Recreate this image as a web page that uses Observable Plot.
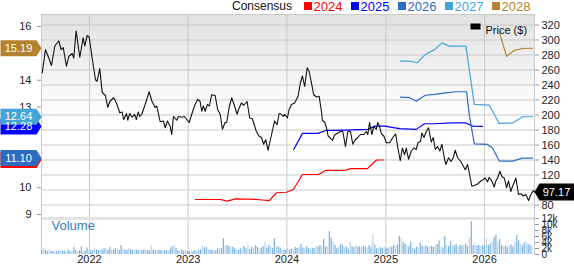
<!DOCTYPE html>
<html><head><meta charset="utf-8">
<script src="https://cdn.jsdelivr.net/npm/d3@7"></script>
<script src="https://cdn.jsdelivr.net/npm/@observablehq/plot@0.6"></script>
<style>
body{margin:0;background:#fff;font-family:"Liberation Sans",Arial,sans-serif;}
#wrap{position:relative;width:574px;height:264px;overflow:hidden;}
#wrap svg{position:absolute;left:0;top:0;}
.lg{position:absolute;top:0;font-size:13px;line-height:13px;white-space:nowrap;}
.sq{position:absolute;top:2px;width:8px;height:8px;}
</style></head><body><div id="wrap"></div>
<script>
// ---------- data ----------
const yearTicks = [2022, 2023, 2024, 2025, 2026];
const priceTicks = [80, 100, 120, 140, 160, 180, 200, 220, 240, 260, 280, 300, 320];
const epsTicks = [16, 14, 13, 10, 9];
const volTicks = [0, 2, 4, 6, 8, 10, 12];
const volTickLabels = ["0", "2k", "4k", "6k", "8k", "10k", "12k"];
const seriesNames = ["2024", "2025", "2026", "2027", "2028"];
const seriesColors = ["#ff0000", "#0000ff", "#2d6cc0", "#45a5d8", "#b4822f"];

const priceT = [2021.521,2021.554,2021.588,2021.615,2021.649,2021.689,2021.713,2021.734,2021.767,2021.790,2021.825,2021.841,2021.865,2021.902,2021.936,2021.952,2021.977,2021.997,
2022.027,2022.061,2022.078,2022.104,2022.129,2022.162,2022.185,2022.206,2022.246,2022.273,2022.307,2022.331,2022.347,2022.375,2022.388,2022.408,2022.432,2022.456,2022.476,2022.493,2022.509,2022.530,2022.564,2022.605,2022.631,2022.665,2022.682,2022.716,2022.749,2022.767,2022.790,2022.817,2022.833,2022.851,2022.884,2022.901,2022.935,2022.962,
2023.010,2023.036,2023.070,2023.097,2023.121,2023.137,2023.154,2023.172,2023.195,2023.215,2023.238,2023.273,2023.299,2023.324,2023.347,2023.374,2023.390,2023.415,2023.441,2023.475,2023.496,2023.509,2023.539,2023.563,2023.597,2023.623,2023.651,2023.691,2023.718,2023.742,2023.765,2023.785,2023.810,2023.833,2023.860,2023.876,2023.901,2023.921,2023.944,2023.962,2023.978,
2024.005,2024.022,2024.046,2024.079,2024.113,2024.137,2024.157,2024.180,2024.205,2024.225,2024.248,2024.271,2024.299,2024.326,2024.349,2024.359,2024.383,2024.400,2024.417,2024.441,2024.461,2024.481,2024.514,2024.542,2024.565,2024.592,2024.616,2024.643,2024.666,2024.691,2024.717,2024.744,2024.778,2024.802,2024.818,2024.835,2024.859,2024.879,2024.903,2024.919,2024.937,2024.954,2024.980,
2025.005,2025.038,2025.071,2025.099,2025.122,2025.146,2025.167,2025.190,2025.207,2025.230,2025.258,2025.284,2025.308,2025.325,2025.352,2025.365,2025.386,2025.410,2025.433,2025.460,2025.481,2025.501,2025.524,2025.547,2025.568,2025.592,2025.608,2025.635,2025.659,2025.683,2025.703,2025.727,2025.760,2025.784,2025.805,2025.828,2025.845,2025.871,2025.896,2025.929,2025.963,2025.987,
2026.007,2026.030,2026.048,2026.074,2026.098,2026.114,2026.132,2026.155,2026.175,2026.200,2026.223,2026.243,2026.266,2026.284,2026.301,2026.317,2026.344,2026.368,2026.392,2026.418,2026.446,2026.469,2026.493,2026.506];
const priceV = [256,287,276,266,292,299,287,290,265,278,282,276,312,277,303,292,306,304,
276,247,245,262,230,226,210,218,223,216,203,204,194,202,193,202,197,201,194,204,198,201,214,231,219,210,212,191,192,183,192,185,174,198,193,198,197,198,
190,201,214,221,218,205,212,205,214,212,227,226,207,201,181,190,190,210,223,210,201,207,216,213,218,196,195,178,172,170,161,167,153,167,183,192,187,202,201,198,201,
196,207,214,216,225,243,252,238,263,258,243,227,224,225,205,193,190,183,172,169,166,173,176,178,178,158,178,178,161,167,170,174,174,178,174,190,174,185,181,190,185,175,172,
163,163,170,175,156,139,156,147,156,141,152,156,154,163,165,176,170,178,183,164,170,154,158,152,161,143,134,143,138,143,153,143,138,132,127,134,123,105,106,108,112,114,
116,111,117,112,104,112,116,125,118,116,103,112,98,105,110,116,94,95,92,94,86,94,99,97.17];

const c2024T = [2023.073,2023.327,2023.397,2023.478,2023.691,2023.823,2023.894,2023.995,2024.066,2024.157,2024.319,2024.390,2024.582,2024.643,2024.815,2024.906,2024.977];
const c2024V = [9.56,9.56,9.50,9.58,9.56,9.52,9.81,9.83,9.93,10.49,10.49,10.64,10.64,10.71,10.71,11.03,11.03];
const c2025T = [2024.069,2024.157,2024.316,2024.393,2024.501,2024.818,2024.886,2024.987,2025.139,2025.308,2025.392,2025.494,2025.676,2025.811,2025.878,2025.980];
const c2025V = [11.42,12.02,12.02,12.13,12.13,12.17,12.29,12.29,12.20,12.17,12.38,12.38,12.41,12.41,12.29,12.28];
const c2026T = [2025.149,2025.241,2025.308,2025.400,2025.494,2025.608,2025.709,2025.818,2025.845,2025.896,2026.030,2026.081,2026.149,2026.284,2026.385,2026.486];
const c2026V = [13.37,13.35,13.22,13.44,13.47,13.53,13.57,13.57,12.72,11.63,11.61,11.48,10.99,10.99,11.10,11.10];
const c2027T = [2025.149,2025.241,2025.318,2025.400,2025.494,2025.568,2025.643,2025.811,2025.896,2026.048,2026.149,2026.284,2026.385,2026.486];
const c2027V = [14.71,14.71,14.65,14.96,15.14,15.39,15.27,15.27,13.10,13.07,12.39,12.41,12.64,12.64];
const c2028T = [2026.149,2026.223,2026.301,2026.385,2026.486];
const c2028V = [15.80,14.89,15.11,15.18,15.19];

// left badges (drawn in this order; 2024 sits underneath 2026)
const badgeSeries = [0, 2, 1, 3, 4];
const badgeEps = [11.03, 11.10, 12.28, 12.64, 15.19];
const badgeLabels = ["", "11.10", "12.28", "12.64", "15.19"];
const lastPrice = 97.17;
const lastPriceLabel = "97.17";

// weekly volume (thousands)
const vol2021 = [1.2,2.0,1.3,1.0,1.6,1.1,0.9,1.2,1.0,1.1,1.3,1.0,1.2,1.1,1.5,1.0,1.2,2.4,1.4,1.0,1.3,2.6,1.1,1.2,2.2,1.0];
const vol2022 = [1.4,1.2,1.8,1.5,1.3,1.6,1.5,1.9,2.1,1.4,2.3,1.6,1.5,2.0,1.8,1.4,2.9,1.7,1.5,1.3,1.9,1.6,1.4,1.2,1.5,1.3,1.4,1.2,1.6,1.3,1.4,1.2,2.8,1.5,1.3,1.2,1.4,1.3,1.5,1.2,1.3,1.1,1.8,2.5,3.0,2.0,1.3,1.2,1.6,1.1,1.3,1.0];
const vol2023 = [1.0,1.2,0.9,1.3,1.1,1.5,1.6,2.9,2.2,2.4,1.6,1.5,1.3,1.4,1.2,1.8,2.2,2.0,5.3,2.8,3.0,2.6,2.7,2.4,2.0,1.6,1.5,1.8,2.2,2.7,1.9,3.2,1.7,2.3,2.0,2.9,2.4,1.9,2.2,2.6,4.0,2.2,3.1,2.6,2.0,5.2,2.6,2.5,2.2,1.8,1.5,1.4];
const vol2024 = [2.0,1.5,1.8,1.6,2.3,2.0,2.3,3.4,2.2,2.0,2.5,2.0,1.8,2.2,1.9,2.7,2.4,3.0,2.6,5.1,2.6,2.4,7.7,5.4,4.2,3.1,2.0,2.7,3.3,2.9,2.2,2.5,1.8,4.0,2.6,2.3,2.9,2.4,2.6,2.3,2.8,2.5,2.2,2.9,2.4,6.6,3.1,1.9,2.0,2.3,2.1,2.4];
const vol2025 = [1.9,2.2,2.5,2.4,3.0,2.8,3.2,6.0,5.3,3.9,3.5,3.0,2.6,4.2,2.1,1.8,2.4,2.2,3.8,2.8,2.6,2.9,2.5,2.8,2.6,2.4,3.0,3.3,4.5,2.4,2.2,6.1,3.1,2.6,4.4,2.8,2.9,3.4,2.7,3.1,2.8,2.9,3.4,2.6,5.5,10.9,3.0,3.8,2.8,3.0,2.7,2.9];
const vol2026 = [2.9,5.2,3.1,3.4,4.2,5.7,6.4,3.9,5.0,2.9,2.6,2.8,2.3,3.0,3.2,2.6,4.0,6.4,4.6,3.3,2.9,3.8,4.2,3.4,3.0,2.8];
const volStart = "2021-07-08";

// ---------- helpers ----------
function yr(t) {
  const y = Math.floor(t), s = Date.UTC(y, 0, 1), e = Date.UTC(y + 1, 0, 1);
  return new Date(s + (t - y) * (e - s));
}
// secondary scales expressed in price units (shared y scale)
const epsToP = e => 320 - (1.5 + (16 - e) * 26.86) / 0.75;
const volToP = v => 14 + v * 4;

const X0 = yr(2021.514), X1 = yr(2026.506);
const yearDates = yearTicks.map(y => new Date(Date.UTC(y, 0, 1)));

const price = priceT.map((t, i) => ({date: yr(t), value: priceV[i]}));
const consT = [c2024T, c2025T, c2026T, c2027T, c2028T];
const consV = [c2024V, c2025V, c2026V, c2027V, c2028V];
const cons = consT.flatMap((ts, k) => ts.map((t, i) => ({date: yr(t), eps: consV[k][i], s: seriesNames[k]})));

const vols = [...vol2021, ...vol2022, ...vol2023, ...vol2024, ...vol2025, ...vol2026];
const volume = vols.map((v, i) => ({date: d3.utcDay.offset(new Date(volStart), 7 * i), v, k: i % 3 === 1 ? 1 : 0}));

const badges = badgeSeries.map((s, i) => ({s: seriesNames[s], eps: badgeEps[i], label: badgeLabels[i]}));

const tagLeft = {draw(ctx) { ctx.moveTo(-41, -8); ctx.lineTo(-5, -8); ctx.lineTo(0, 0); ctx.lineTo(-5, 8); ctx.lineTo(-41, 8); ctx.closePath(); }};
const tagRight = {draw(ctx) { ctx.moveTo(0, 0); ctx.lineTo(5, -8.5); ctx.lineTo(41, -8.5); ctx.lineTo(41, 8.5); ctx.lineTo(5, 8.5); ctx.closePath(); }};
const swatch = {draw(ctx) { ctx.moveTo(-5, -3); ctx.lineTo(5, -3); ctx.lineTo(5, 3); ctx.lineTo(-5, 3); ctx.closePath(); }};

const epsLabel = new Map(epsTicks.map(e => [epsToP(e), String(e)]));
const volLabel = new Map(volTicks.map((v, i) => [volToP(v), volTickLabels[i]]));
// price tick labels hidden underneath the last-price tag
const priceLabel = v => Math.abs(v - lastPrice) < 11 ? "" : String(v);

const grid = "#c9c9c9";
const chart = Plot.plot({
  width: 574, height: 264,
  marginLeft: 41, marginRight: 40, marginTop: 14, marginBottom: 10,
  style: {fontFamily: "'Liberation Sans', Arial, sans-serif", fontSize: "11px", color: "#222", background: "transparent", overflow: "visible"},
  x: {type: "utc", domain: [X0, X1]},
  y: {domain: [14, 334]},
  color: {domain: seriesNames, range: seriesColors},
  marks: [
    Plot.frame({fill: "url(#bg)", stroke: null}),
    Plot.ruleY(priceTicks, {stroke: grid, strokeWidth: 1}),
    Plot.ruleX(yearDates, {stroke: grid, strokeWidth: 1}),
    Plot.ruleY([volToP(12)], {stroke: "#e2e2e2", strokeWidth: 3}),
    Plot.ruleY([334], {stroke: grid}),
    Plot.ruleX([X0, X1], {stroke: grid}),
    Plot.ruleX(volume, {x: "date", y1: volToP(0), y2: d => volToP(d.v), stroke: d => d.k ? "#b7d5ef" : "#78afdf", strokeWidth: 1.2}),
    Plot.text(["Volume"], {frameAnchor: "bottom-left", dx: 10, dy: -25, fill: "#2f80c4", fontSize: 13, textAnchor: "start"}),
    Plot.line(cons, {x: "date", y: d => epsToP(d.eps), z: "s", stroke: "s", strokeWidth: 1.2}),
    Plot.line(price, {x: "date", y: "value", stroke: "#111", strokeWidth: 1.1}),
    Plot.dot([0], {frameAnchor: "top-right", dx: -59, dy: 12, symbol: swatch, fill: "#000", stroke: null, r: 5}),
    Plot.text(["Price ($)"], {frameAnchor: "top-right", dx: -49, dy: 12, textAnchor: "start", fill: "#111", fontSize: 11}),
    Plot.axisX({ticks: yearDates, tickFormat: d3.utcFormat("%Y"), tickSize: 0, tickPadding: 1, label: null, fontSize: 11}),
    Plot.axisY({anchor: "left", ticks: epsTicks.map(epsToP), tickFormat: v => epsLabel.get(v), tickSize: 4, tickPadding: 6, label: null, stroke: "#999", fill: "#222"}),
    Plot.axisY({anchor: "right", ticks: priceTicks, tickFormat: priceLabel, tickSize: 4, tickPadding: 3, label: null, stroke: "#999", fill: "#222"}),
    Plot.axisY({anchor: "right", ticks: volTicks.map(volToP), tickFormat: v => volLabel.get(v), tickSize: 4, tickPadding: 3, label: null, stroke: "#999", fill: "#222", fontSize: 10}),
    Plot.dot(badges, {x: () => X0, y: d => epsToP(d.eps), symbol: tagLeft, fill: "s", stroke: null, r: 5}),
    Plot.text(badges.filter(d => d.label), {x: () => X0, y: d => epsToP(d.eps), text: "label", dx: -23, fill: "white", fontSize: 11}),
    Plot.dot([lastPrice], {x: () => X1, y: d => d, symbol: tagRight, fill: "#000", stroke: null, r: 5}),
    Plot.text([lastPrice], {x: () => X1, y: d => d, text: () => lastPriceLabel, dx: 22, fill: "white", fontSize: 11})
  ]
});

const svg = d3.select(chart);
const g = svg.insert("defs", ":first-child").append("linearGradient")
  .attr("id", "bg").attr("x1", 0).attr("y1", 0).attr("x2", 0).attr("y2", 1);
g.append("stop").attr("offset", 0).attr("stop-color", "#e1e1e1");
g.append("stop").attr("offset", 0.43).attr("stop-color", "#ffffff");
g.append("stop").attr("offset", 1).attr("stop-color", "#ffffff");

const wrap = document.getElementById("wrap");
wrap.appendChild(chart);

// legend
const lg = document.createElement("div");
lg.innerHTML = `<span class="lg" style="left:232px;color:#111;font-size:12px">Consensus</span>` +
  seriesNames.map((n, i) => `<span class="sq" style="left:${304 + 47 * i}px;background:${seriesColors[i]}"></span><span class="lg" style="left:${313.5 + 47 * i}px;color:${seriesColors[i]}">${n}</span>`).join("");
wrap.appendChild(lg);
</script></body></html>
